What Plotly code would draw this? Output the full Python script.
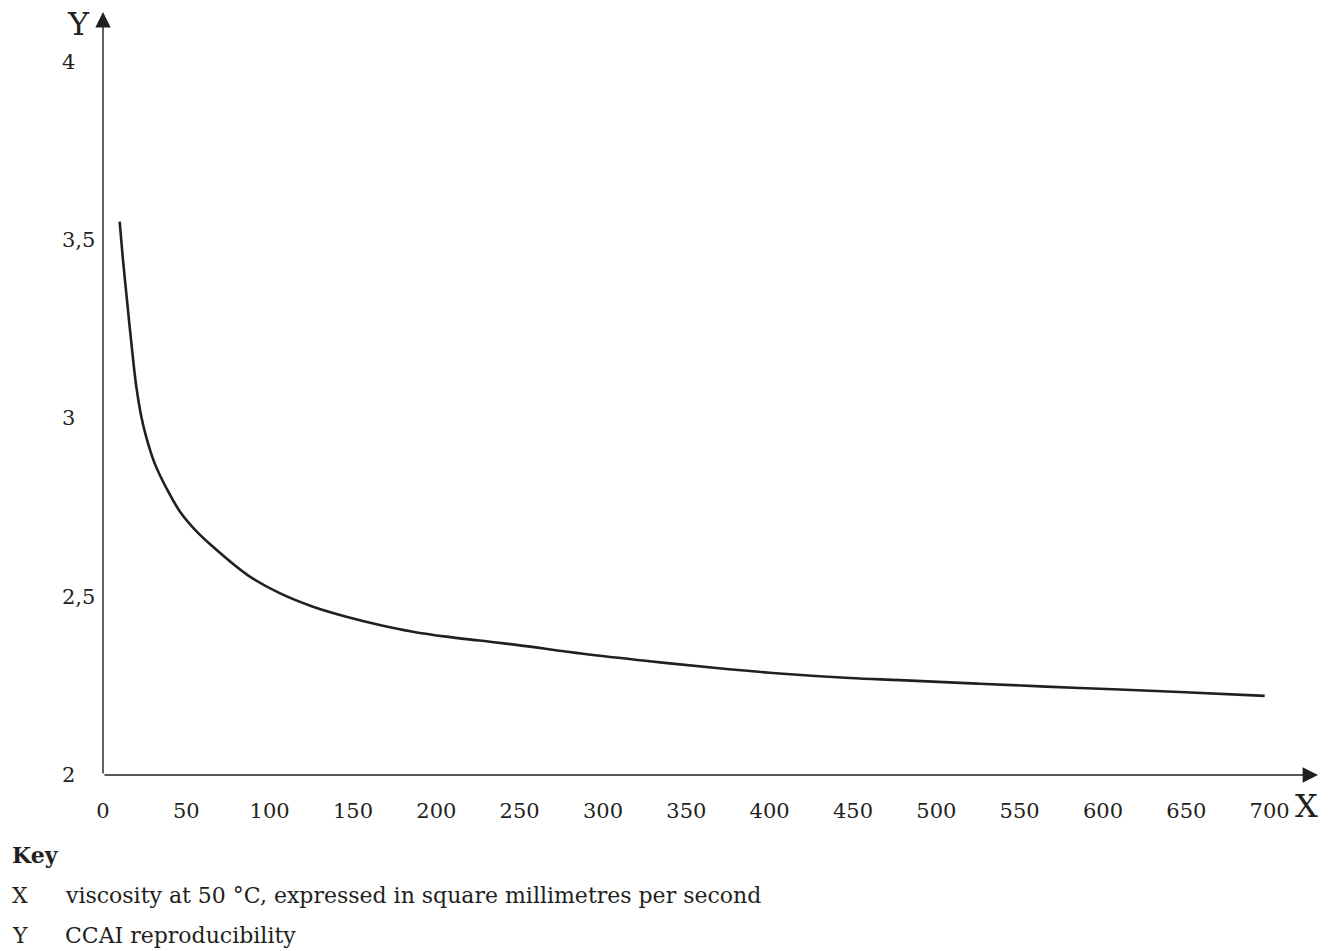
import plotly.graph_objects as go

# Data
viscosity = [10, 12, 14, 16, 18, 20, 23, 26, 31, 38, 46, 56, 66, 87, 106, 126, 146, 166, 186,
             206, 226, 248, 288, 328, 368, 408, 448, 478, 526, 586, 646, 697]
ccai_repro = [3.552, 3.444, 3.350, 3.257, 3.168, 3.089, 3.005, 2.947, 2.874, 2.805, 2.740,
              2.684, 2.640, 2.560, 2.510, 2.472, 2.444, 2.421, 2.402, 2.388, 2.377, 2.365,
              2.340, 2.319, 2.300, 2.284, 2.272, 2.266, 2.256, 2.244, 2.233, 2.222]

x_tickvals = [0, 50, 100, 150, 200, 250, 300, 350, 400, 450, 500, 550, 600, 650, 700]
x_ticktext = [str(v) for v in x_tickvals]
y_tickvals = [2, 2.5, 3, 3.5, 4]
y_ticktext = ["2", "2,5", "3", "3,5", "4"]

key_rows = [("X", "viscosity at 50 °C, expressed in square millimetres per second"),
            ("Y", "CCAI reproducibility")]

W, H = 1331, 951
L, R, T, B = 103, 13, 12, 176
XMAX, YMIN, YMAX = 729, 2, 4.14
INK = "#231f20"
FONT = "DejaVu Serif"
FS = 21
KFS = 22

fig = go.Figure()
fig.add_trace(go.Scatter(x=viscosity, y=ccai_repro, mode="lines",
                         line=dict(color=INK, width=2.6, shape="spline", smoothing=1.0),
                         hoverinfo="skip", showlegend=False))

fig.update_layout(
    width=W, height=H, margin=dict(l=L, r=R, t=T, b=B, pad=0),
    paper_bgcolor="white", plot_bgcolor="white", showlegend=False,
    xaxis=dict(range=[0, XMAX], showgrid=False, zeroline=False, showline=False,
               tickvals=x_tickvals, ticktext=x_ticktext, ticks="",
               ticklabelstandoff=21,
               tickfont=dict(family=FONT, size=FS, color=INK)),
    yaxis=dict(range=[YMIN, YMAX], showgrid=False, zeroline=False, showline=False,
               showticklabels=False, ticks=""),
)

# Axis lines with arrows
fig.add_annotation(x=XMAX, y=YMIN, ax=0, ay=YMIN, xref="x", yref="y", axref="x", ayref="y",
                   text="", showarrow=True, arrowhead=2, arrowsize=2.2, arrowwidth=1.4,
                   arrowcolor=INK, standoff=0, startstandoff=0)
fig.add_annotation(x=0, y=YMAX, ax=0, ay=YMIN, xref="x", yref="y", axref="x", ayref="y",
                   text="", showarrow=True, arrowhead=2, arrowsize=2.2, arrowwidth=1.4,
                   arrowcolor=INK, standoff=0, startstandoff=0)

pw = W - L - R
ph = H - T - B


def py(pix):
    return 1 - (pix - T) / ph


# Y tick labels, left aligned like the reference
for v, t in zip(y_tickvals, y_ticktext):
    fig.add_annotation(x=(60 - L) / pw, xref="paper", y=v, yref="y", text=t,
                       showarrow=False, xanchor="left", yanchor="middle",
                       font=dict(family=FONT, size=FS, color=INK))

# Axis letters
fig.add_annotation(x=(78 - L) / pw, xref="paper", y=py(24), yref="paper",
                   text="Y", showarrow=False, xanchor="center", yanchor="middle",
                   font=dict(family=FONT, size=32, color=INK))
fig.add_annotation(x=(1306 - L) / pw, xref="paper", y=py(806), yref="paper",
                   text="X", showarrow=False, xanchor="center", yanchor="middle",
                   font=dict(family=FONT, size=32, color=INK))

# Key
fig.add_annotation(x=(10 - L) / pw, xref="paper", y=py(855), yref="paper", text="<b>Key</b>",
                   showarrow=False, xanchor="left", yanchor="middle",
                   font=dict(family=FONT, size=KFS, color=INK))
for i, (sym, desc) in enumerate(key_rows):
    yy = py(895 + 40 * i)
    fig.add_annotation(x=(10 - L) / pw, xref="paper", y=yy, yref="paper", text=sym,
                       showarrow=False, xanchor="left", yanchor="middle",
                       font=dict(family=FONT, size=KFS, color=INK))
    fig.add_annotation(x=(63 - L) / pw, xref="paper", y=yy, yref="paper", text=desc,
                       showarrow=False, xanchor="left", yanchor="middle",
                       font=dict(family=FONT, size=KFS, color=INK))

fig.write_html(
    "out.html",
    config={"displayModeBar": False},
    post_script=("document.body.style.margin='0';"
                 "document.body.style.overflow='hidden';"
                 "document.documentElement.style.overflow='hidden';"),
)
